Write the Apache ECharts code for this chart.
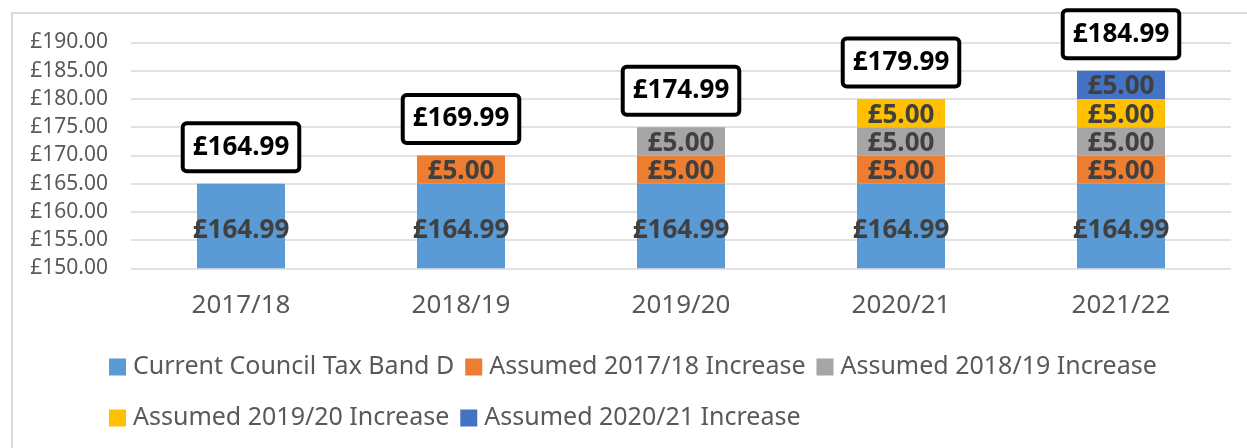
<!DOCTYPE html>
<html>
<head>
<meta charset="utf-8">
<script src="https://cdn.jsdelivr.net/npm/echarts@6/dist/echarts.min.js"></script>
<style>
html,body{margin:0;padding:0;background:#fff;}
#chart{width:1247px;height:448px;}
</style>
</head>
<body>
<div id="chart"></div>
<script>
const categories = ['2017/18', '2018/19', '2019/20', '2020/21', '2021/22'];
const seriesNames = ['Current Council Tax Band D', 'Assumed 2017/18 Increase', 'Assumed 2018/19 Increase', 'Assumed 2019/20 Increase', 'Assumed 2020/21 Increase'];
const baseBandD = [164.99, 164.99, 164.99, 164.99, 164.99];
const inc1718 = [null, 5.00, 5.00, 5.00, 5.00];
const inc1819 = [null, null, 5.00, 5.00, 5.00];
const inc1920 = [null, null, null, 5.00, 5.00];
const inc2021 = [null, null, null, null, 5.00];
const totals = [164.99, 169.99, 174.99, 179.99, 184.99];
const yTicks = [150, 155, 160, 165, 170, 175, 180, 185, 190];

const colors = ['#5B9BD5', '#ED7D31', '#A5A5A5', '#FFC000', '#4472C4'];
const FONT = 'Noto Sans';
const seriesData = [baseBandD, inc1718, inc1819, inc1920, inc2021];

const chart = echarts.init(document.getElementById('chart'), null, {renderer: 'canvas'});

const barSeries = seriesData.map((d, i) => ({
  name: seriesNames[i],
  type: 'bar',
  stack: 'total',
  data: d,
  barWidth: '40%',
  itemStyle: {color: colors[i]},
  label: {
    show: true,
    position: 'inside',
    offset: [0, i === 0 ? 5 : 2],
    formatter: p => '£' + Number(p.value).toFixed(2),
    color: '#404040',
    fontFamily: FONT,
    fontWeight: 'bold',
    fontSize: 26
  }
}));

const totalSeries = {
  name: 'Total',
  type: 'scatter',
  data: totals.map((t, i) => [categories[i], t]),
  symbolSize: 1,
  itemStyle: {color: 'rgba(0,0,0,0)', opacity: 1},
  silent: true,
  z: 10,
  label: {
    show: true,
    position: 'top',
    distance: 14,
    formatter: p => '£' + Number(p.value[1]).toFixed(2),
    color: '#000',
    fontFamily: FONT,
    fontWeight: 'bold',
    fontSize: 26,
    lineHeight: 30,
    backgroundColor: '#fff',
    borderColor: '#000',
    borderWidth: 4,
    borderRadius: 2,
    padding: [7, 8, 7, 8]
  }
};

chart.setOption({
  animation: false,
  textStyle: {fontFamily: FONT},
  graphic: [{
    type: 'rect',
    shape: {x: 12, y: 13, width: 1400, height: 600},
    style: {fill: 'none', stroke: '#d9d9d9', lineWidth: 2},
    silent: true,
    z: -10
  }],
  grid: {left: 131, right: 16, top: 42.5, bottom: 179.7, containLabel: false},
  xAxis: {
    type: 'category',
    data: categories,
    axisLine: {show: false},
    axisTick: {show: false},
    axisLabel: {color: '#595959', fontSize: 26, fontFamily: FONT, margin: 24}
  },
  yAxis: {
    type: 'value',
    min: yTicks[0],
    max: yTicks[yTicks.length - 1],
    interval: 5,
    axisLine: {show: false},
    axisTick: {show: false},
    splitLine: {lineStyle: {color: '#d9d9d9', width: 1.5}},
    axisLabel: {
      color: '#595959', fontSize: 21, fontFamily: FONT, margin: 23,
      formatter: v => '£' + v.toFixed(2)
    }
  },
  legend: {
    data: seriesNames,
    left: 109,
    top: 347,
    padding: 0,
    width: 1110,
    itemWidth: 17,
    itemHeight: 17,
    itemGap: 11,
    icon: 'rect',
    textStyle: {color: '#595959', fontSize: 25, fontFamily: FONT, lineHeight: 40, padding: [0, 0, 0, 2]}
  },
  series: [...barSeries, totalSeries]
});
</script>
</body>
</html>
